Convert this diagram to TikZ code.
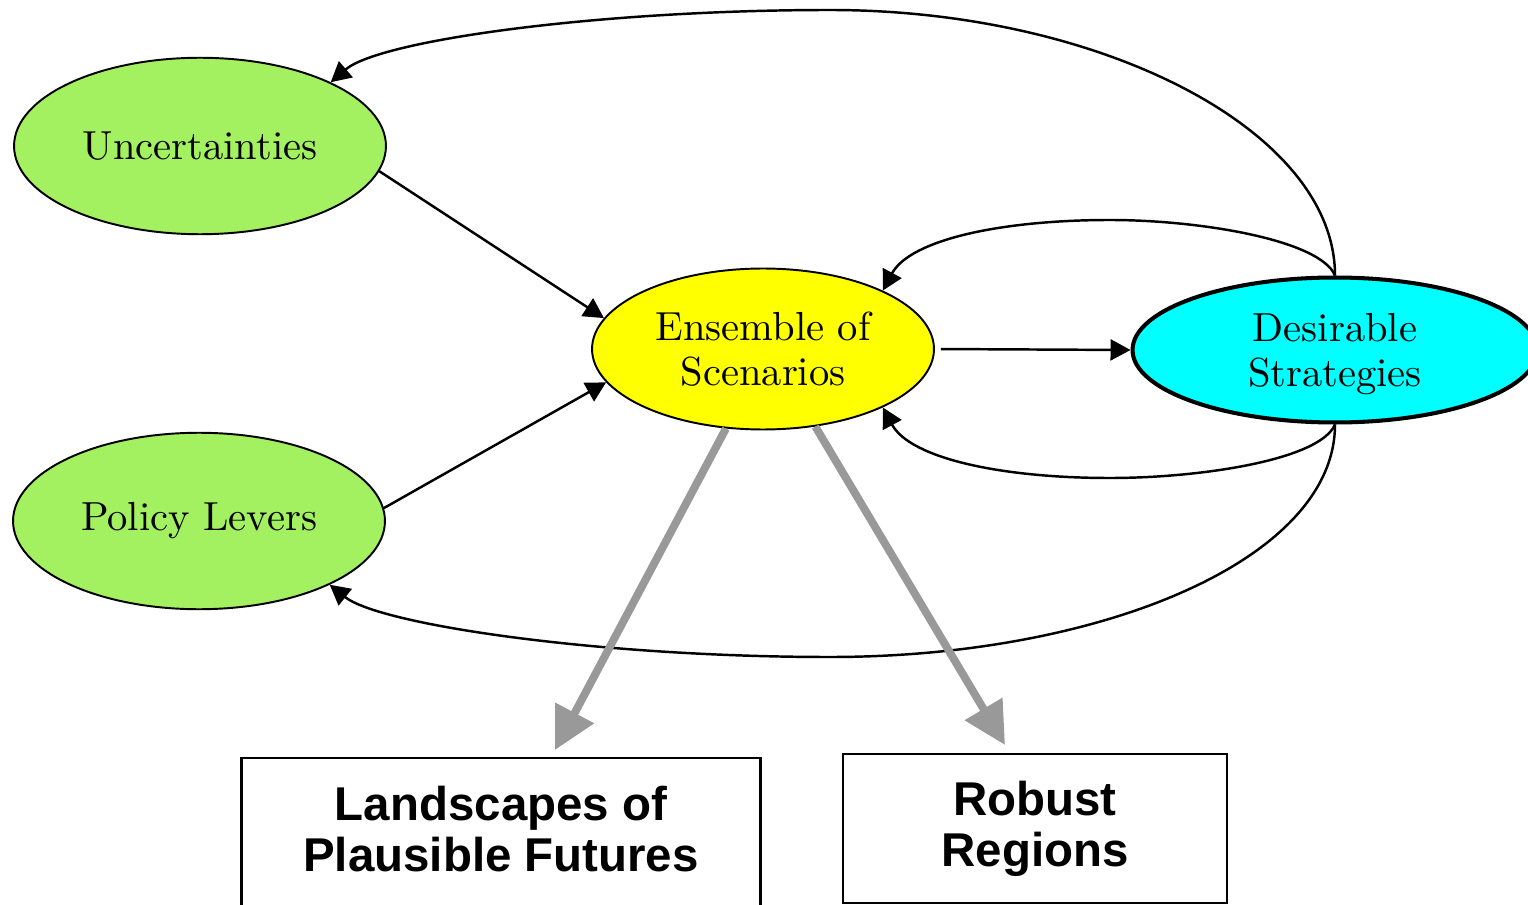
\documentclass[tikz,border=0pt]{standalone}
\usepackage{fontspec}
\usetikzlibrary{shapes.geometric,arrows.meta}
\newfontfamily\boxfont{Liberation Sans}
\newfontfamily\ovalserif{lmroman10-regular}[Extension=.otf]
\definecolor{levergreen}{RGB}{163,240,96}
\definecolor{ensyellow}{RGB}{255,255,0}
\definecolor{descyan}{RGB}{0,255,255}
\definecolor{fangray}{RGB}{153,153,153}
\newcommand{\ovalfont}{\ovalserif\fontsize{23.1}{25.4}\selectfont}
\newcommand{\outcomefont}{\boxfont\bfseries\fontsize{27}{29}\selectfont}

\begin{document}
\begin{tikzpicture}[x={(0.02cm,0)},y={(0,-0.02cm)}, >={Triangle[length=0.4cm,width=0.42cm]},
	oval/.style={ellipse,draw,line width=1.1pt,inner sep=0pt,align=center,font=\ovalfont},
	outcome/.style={rectangle,draw,line width=1.3pt,inner sep=0pt,align=center,font=\outcomefont},
	link/.style={->,line width=1.4pt},
	fan/.style={-{Triangle[length=0.84cm,width=0.84cm]},line width=4.5pt,fangray}]

\useasboundingbox (0,0) rectangle (1528,905);

% ovals
\node[oval,fill=levergreen,minimum width=7.44cm,minimum height=3.53cm] (unc) at (200,146) {Uncertainties};
\node[oval,fill=levergreen,minimum width=7.44cm,minimum height=3.53cm] (pol) at (199,521) {Policy Levers};
\node[oval,fill=ensyellow,minimum width=6.84cm,minimum height=3.22cm] (ens) at (763,349) {Ensemble of\\Scenarios};
\node[oval,fill=descyan,line width=2.3pt,text depth=0pt,minimum width=8.1cm,minimum height=2.9cm] (des) at (1335,350) {Desirable\\Strategies};

% boxes
\node[outcome,text depth=0.2cm,minimum width=10.38cm,minimum height=3.04cm] (land) at (501,834) {Landscapes of\\Plausible Futures};
\node[outcome,minimum width=7.68cm,minimum height=2.98cm] (rob) at (1035,828.5) {Robust\\Regions};

% links
\draw[link] (unc.-8) -- (ens.169);
\draw[link] (pol.4) -- (ens.-168.5);
\draw[link,shorten <=0.12cm] (ens.east) -- (des.west);
\draw[link] (des.north) .. controls (1335,130) and (1100,10) .. (830,10) .. controls (600,10) and (380,40) .. (unc.26);
\draw[link] (des.north) .. controls (1320,240) and (1200,220) .. (1110,220) .. controls (1000,220) and (910,240) .. (ens.26);
\draw[link] (des.south) .. controls (1320,460) and (1200,478) .. (1110,478) .. controls (1000,478) and (910,458) .. (ens.-26);
\draw[link] (des.south) .. controls (1335,560) and (1100,657) .. (830,657) .. controls (600,657) and (380,625) .. (pol.-26);

% outcomes
\coordinate (landtip) at (555,750);
\coordinate (robtip) at (1005,745);
\draw[fan] (ens.-115) -- (landtip);
\draw[fan] (ens.-56.5) -- (robtip);

\end{tikzpicture}
\end{document}
